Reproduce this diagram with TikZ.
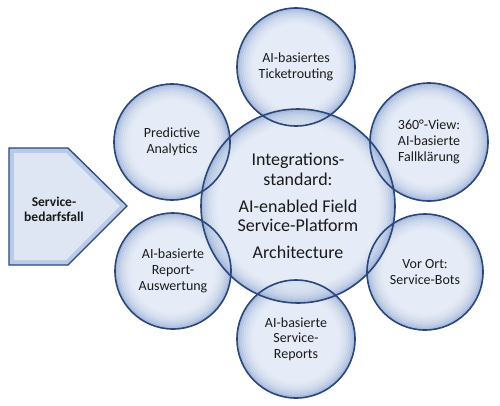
\documentclass[tikz,border=0pt]{standalone}
\usepackage{fontspec}
\setmainfont{Carlito}
\definecolor{cin}{HTML}{E0E8F5}
\definecolor{cout}{HTML}{7592C7}
\definecolor{rim}{HTML}{2B4679}
\definecolor{txt}{HTML}{1A1A1A}
\definecolor{pfill}{HTML}{B9CAE7}
\definecolor{pinner}{HTML}{DEE6F3}
\begin{document}
\begin{tikzpicture}[x=1pt,y=-1pt,
  label text/.style={circle, minimum size=#1, inner sep=0pt, align=center, font=\fontsize{14}{15.7}\selectfont, text=txt},
  ring/.style={draw=rim, line width=1.6pt}]
\useasboundingbox (0,0) rectangle (500,405);
\fill[white] (0,0) rectangle (500,405);
% pentagon arrow
\path[fill=pfill, draw=rim, line width=1.3pt] (9,148) -- (68,148) -- (127,206) -- (68,265) -- (9,265) -- cycle;
\path[fill=pinner] (14,153) -- (66,153) -- (120,206) -- (66,260) -- (14,260) -- cycle;
\node[align=center, font=\bfseries\fontsize{13.5}{15}\selectfont, text=txt] (svc) at (54,209) {Service-\\bedarfsfall};
% glassy fills
\foreach \x/\y/\r in {296/67/59, 429/142/59, 425/272/58, 296/339/59, 173/271/58, 172/142/58, 298/206/97}{
  \fill[cin, fill opacity=0.8] (\x,\y) circle[radius=\r];
  \foreach \d/\o in {1/0.5, 3/0.38, 5/0.28, 7/0.2, 9/0.14, 11/0.09, 13/0.05, 15/0.025}
    \draw[cout, line width=2.2pt, draw opacity=\o] (\x,\y) circle[radius=\r-\d];
}
% nodes
\node[label text=118pt] (top) at (296,67) {AI-basiertes\\Ticketrouting};
\node[label text=118pt] (ur) at (429,142) {360°-View:\\AI-basierte\\Fallklärung};
\node[label text=116pt] (lr) at (425,272) {Vor Ort:\\Service-Bots};
\node[label text=118pt] (bot) at (296,339) {AI-basierte\\Service-\\Reports};
\node[label text=116pt] (ll) at (173,271) {AI-basierte\\Report-\\Auswertung};
\node[label text=116pt] (ul) at (172,142) {Predictive\\Analytics};
\node[label text=194pt, font=\fontsize{18}{19.5}\selectfont] (core) at (298,206) {Integrations-\\standard:\\[7.5pt]AI-enabled Field\\Service-Platform\\[7.5pt]Architecture};
% rims
\foreach \n/\r in {top/59,ur/59,lr/58,bot/59,ll/58,ul/58,core/97} \draw[ring] (\n.center) circle[radius=\r];
\end{tikzpicture}
\end{document}
